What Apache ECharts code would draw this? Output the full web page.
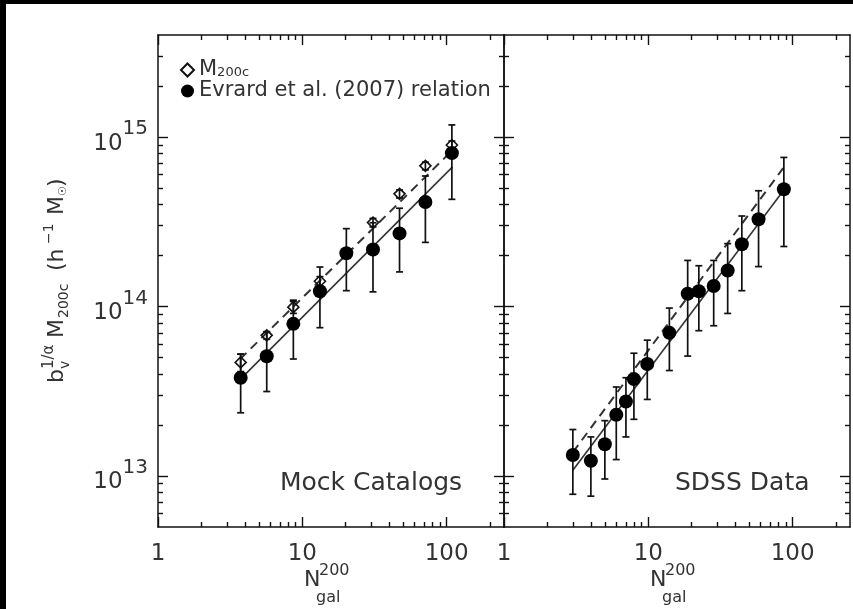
<!DOCTYPE html>
<html>
<head>
<meta charset="utf-8">
<script src="https://cdn.jsdelivr.net/npm/echarts@6/dist/echarts.min.js"></script>
<style>
html,body{margin:0;padding:0;background:#fff;}
#chart{width:853px;height:609px;}
</style>
</head>
<body>
<div id="chart"></div>
<script>
// ---------- data ----------
const mockN = [3.74, 5.67, 8.67, 13.25, 20.2, 30.9, 47.2, 71.3, 108.8];
const mockM200c = [4.68e13, 6.76e13, 9.91e13, 1.41e14, 2.05e14, 3.13e14, 4.62e14, 6.76e14, 8.97e14];
const mockM200cErr = [0.55e13, 0.35e13, 0.8e13, 0.9e13, 1.2e13, 1.8e13, 2.5e13, 3.5e13, 5e13];
const mockEvrard = [3.80e13, 5.09e13, 7.90e13, 1.23e14, 2.06e14, 2.17e14, 2.70e14, 4.14e14, 8.04e14];
const mockEvrardErr = [1.44e13, 1.94e13, 3.0e13, 4.8e13, 8.2e13, 9.5e13, 1.1e14, 1.75e14, 3.75e14];

const sdssN = [3, 4, 5, 6, 7, 7.95, 9.84, 14.0, 18.75, 22.4, 28.4, 35.5, 44.5, 58.1, 87.0];
const sdssEvrard = [1.33e13, 1.23e13, 1.54e13, 2.30e13, 2.75e13, 3.73e13, 4.58e13, 6.99e13, 1.19e14, 1.23e14, 1.32e14, 1.63e14, 2.33e14, 3.27e14, 4.92e14];
const sdssEvrardErr = [0.55e13, 0.47e13, 0.58e13, 1.05e13, 1.05e13, 1.57e13, 1.75e13, 2.8e13, 0.68e14, 0.51e14, 0.55e14, 0.72e14, 1.09e14, 1.55e14, 2.66e14];

// fitted relations (end points)
const mockFitN = [3.7, 110];
const mockFitSolid = [3.70e13, 6.67e14];
const mockFitDashed = [4.89e13, 8.36e14];
const sdssFitN = [3, 86];
const sdssFitSolid = [1.08e13, 4.80e14];
const sdssFitDashed = [1.38e13, 6.55e14];

// axes
const xRange = [1, 250];
const yRange = [5e12, 4e15];
const xMajorTicks = [1, 10, 100];
const xMinorTicks = [2,3,4,5,6,7,8,9,20,30,40,50,60,70,80,90,200];
const xTickLabels = [1, 10, 100];
const yMajorTicks = [1e13, 1e14, 1e15];
const yMinorTicks = [6e12,7e12,8e12,9e12,2e13,3e13,4e13,5e13,6e13,7e13,8e13,9e13,2e14,3e14,4e14,5e14,6e14,7e14,8e14,9e14,2e15,3e15];

const panelTitles = ['Mock Catalogs', 'SDSS Data'];
const legendNames = ['M200c', 'Evrard et al. (2007) relation'];

// ---------- chart ----------
const FONT = 'DejaVu Sans';
const TXT = '#333';
const INK = '#111';
const grids = [
  {left: 158, top: 35, width: 346, height: 492},
  {left: 504, top: 35, width: 346, height: 492}
];

function xAxesFor(g) {
  const base = {type: 'log', logBase: 10, min: xRange[0], max: xRange[1], gridIndex: g,
    splitLine: {show: false}, minorTick: {show: false}, minorSplitLine: {show: false}};
  const line = {show: true, onZero: false, lineStyle: {color: INK, width: 1.5}};
  const noLine = {show: false, onZero: false};
  const tk = (vals, len) => ({show: true, inside: true, length: len, customValues: vals, lineStyle: {color: INK, width: 1.4}});
  return [
    Object.assign({}, base, {position: 'bottom', axisLine: line, axisTick: tk(xMajorTicks, 10),
      axisLabel: {show: true, customValues: xTickLabels, margin: 16, fontSize: 23, fontFamily: FONT, color: TXT,
        formatter: v => String(Math.round(v))}}),
    Object.assign({}, base, {position: 'bottom', axisLine: noLine, axisTick: tk(xMinorTicks, 5), axisLabel: {show: false}}),
    Object.assign({}, base, {position: 'top', axisLine: line, axisTick: tk(xMajorTicks, 10), axisLabel: {show: false}}),
    Object.assign({}, base, {position: 'top', axisLine: noLine, axisTick: tk(xMinorTicks, 5), axisLabel: {show: false}})
  ];
}
function yAxesFor(g, labels) {
  const base = {type: 'log', logBase: 10, min: yRange[0], max: yRange[1], gridIndex: g,
    splitLine: {show: false}, minorTick: {show: false}, minorSplitLine: {show: false}};
  const line = {show: true, onZero: false, lineStyle: {color: INK, width: 1.5}};
  const noLine = {show: false, onZero: false};
  const tk = (vals, len) => ({show: true, inside: true, length: len, customValues: vals, lineStyle: {color: INK, width: 1.4}});
  return [
    Object.assign({}, base, {position: 'left', axisLine: line, axisTick: tk(yMajorTicks, 10),
      axisLabel: labels ? {show: true, customValues: yMajorTicks, margin: 10, fontFamily: FONT, color: TXT,
        formatter: v => '{b|10}{s|' + Math.round(Math.log10(v)) + '}',
        rich: {
          b: {fontSize: 23, fontFamily: FONT, color: TXT, lineHeight: 36, verticalAlign: 'bottom'},
          s: {fontSize: 20, fontFamily: FONT, color: TXT, lineHeight: 36, verticalAlign: 'top'}
        }} : {show: false}}),
    Object.assign({}, base, {position: 'left', axisLine: noLine, axisTick: tk(yMinorTicks, 5), axisLabel: {show: false}}),
    Object.assign({}, base, {position: 'right', axisLine: line, axisTick: tk(yMajorTicks, 10), axisLabel: {show: false}}),
    Object.assign({}, base, {position: 'right', axisLine: noLine, axisTick: tk(yMinorTicks, 5), axisLabel: {show: false}})
  ];
}

function zip3(a, b, c) { return a.map((v, i) => c ? [v, b[i], c[i]] : [v, b[i]]); }

function errorBars(name, xi, yi, N, M, E, z) {
  return {
    type: 'custom', name: name + ' err', xAxisIndex: xi, yAxisIndex: yi, z: z, silent: true,
    encode: {x: 0, y: 1},
    data: zip3(N, M, E),
    renderItem: (params, api) => {
      const x = api.value(0), y = api.value(1), e = api.value(2);
      const p1 = api.coord([x, y + e]);
      const p2 = api.coord([x, y - e]);
      const w = 3.5;
      const st = {stroke: INK, lineWidth: 1.7};
      return {type: 'group', children: [
        {type: 'line', shape: {x1: p1[0], y1: p1[1], x2: p2[0], y2: p2[1]}, style: st},
        {type: 'line', shape: {x1: p1[0] - w, y1: p1[1], x2: p1[0] + w, y2: p1[1]}, style: st},
        {type: 'line', shape: {x1: p2[0] - w, y1: p2[1], x2: p2[0] + w, y2: p2[1]}, style: st}
      ]};
    }
  };
}
function fitLine(name, xi, yi, N, M, dashed) {
  return {type: 'line', name: name, xAxisIndex: xi, yAxisIndex: yi, z: 2, silent: true,
    symbol: 'none', data: zip3(N, M),
    lineStyle: {color: '#333', width: dashed ? 2 : 1.6, type: dashed ? [9, 6] : 'solid'}};
}
const diamondStyle = {color: 'rgba(0,0,0,0)', borderColor: INK, borderWidth: 1.6, opacity: 1};
const dotStyle = {color: '#000', opacity: 1};

const series = [
  fitLine('mock solid', 0, 0, mockFitN, mockFitSolid, false),
  fitLine('mock dashed', 0, 0, mockFitN, mockFitDashed, true),
  fitLine('sdss solid', 4, 4, sdssFitN, sdssFitSolid, false),
  fitLine('sdss dashed', 4, 4, sdssFitN, sdssFitDashed, true),
  errorBars('mock M200c', 0, 0, mockN, mockM200c, mockM200cErr, 3),
  errorBars('mock Evrard', 0, 0, mockN, mockEvrard, mockEvrardErr, 3),
  errorBars('sdss Evrard', 4, 4, sdssN, sdssEvrard, sdssEvrardErr, 3),
  {type: 'scatter', name: legendNames[0], xAxisIndex: 0, yAxisIndex: 0, z: 4,
    symbol: 'diamond', symbolSize: 11, itemStyle: diamondStyle, data: zip3(mockN, mockM200c)},
  {type: 'scatter', name: legendNames[1], xAxisIndex: 0, yAxisIndex: 0, z: 5,
    symbol: 'circle', symbolSize: 14, itemStyle: dotStyle, data: zip3(mockN, mockEvrard)},
  {type: 'scatter', name: legendNames[1], xAxisIndex: 4, yAxisIndex: 4, z: 5,
    symbol: 'circle', symbolSize: 14, itemStyle: dotStyle, data: zip3(sdssN, sdssEvrard)}
];

// y-axis title pieces (local coordinates along the rotated baseline)
function t(text, x, y, fs) {
  return {type: 'text', x: x, y: y, style: {text: text, fontSize: fs, fontFamily: FONT, fill: TXT, align: 'left', verticalAlign: 'middle'}};
}
const yTitle = {type: 'group', x: 57, y: 383, rotation: Math.PI / 2, silent: true, children: [
  t('b', 0, 0, 22), t('v', 14, 8, 14), t('1/α', 14, -8, 15),
  t('M', 45, 0, 22), t('200c', 65, 7, 14),
  t('(h', 112, 0, 22), t('−1', 139, -8, 14),
  t('M', 168, 0, 22), t('☉', 187, 6, 11), t(')', 196, 0, 22)
]};
function xTitle(x0) {
  return {type: 'group', x: x0, y: 0, silent: true, children: [
    t('N', 0, 580, 22), t('200', 15, 571, 16), t('gal', 12, 598, 16)
  ]};
}

const option = {
  animation: false,
  backgroundColor: '#fff',
  textStyle: {fontFamily: FONT},
  grid: grids.map(g => Object.assign({containLabel: false, outerBoundsMode: 'none'}, g)),
  xAxis: xAxesFor(0).concat(xAxesFor(1)),
  yAxis: yAxesFor(0, true).concat(yAxesFor(1, false)),
  legend: {
    data: legendNames, orient: 'vertical', left: 180, top: 59.5, itemWidth: 13, itemHeight: 13, itemGap: 0,
    padding: 0, selectedMode: false,
    formatter: n => n === 'M200c' ? '{m|M}{s|200c}' : '{m|' + n + '}',
    textStyle: {fontSize: 21, fontFamily: FONT, color: TXT, lineHeight: 19,
      rich: {
        m: {fontSize: 21, fontFamily: FONT, color: TXT, lineHeight: 19},
        s: {fontSize: 13, fontFamily: FONT, color: TXT, lineHeight: 19, verticalAlign: 'bottom'}
      }}
  },
  graphic: [
    {type: 'rect', shape: {x: 0, y: 0, width: 853, height: 4}, style: {fill: '#000'}, silent: true},
    {type: 'rect', shape: {x: 0, y: 0, width: 6, height: 609}, style: {fill: '#000'}, silent: true},
    {type: 'text', x: 280, y: 483, silent: true, style: {text: panelTitles[0], fontSize: 25, fontFamily: FONT, fill: TXT, align: 'left', verticalAlign: 'middle'}},
    {type: 'text', x: 675, y: 483, silent: true, style: {text: panelTitles[1], fontSize: 25, fontFamily: FONT, fill: TXT, align: 'left', verticalAlign: 'middle'}},
    yTitle, xTitle(304), xTitle(650)
  ],
  series: series
};
const chart = echarts.init(document.getElementById('chart'), null, {renderer: 'canvas'});
chart.setOption(option);
</script>
</body>
</html>
